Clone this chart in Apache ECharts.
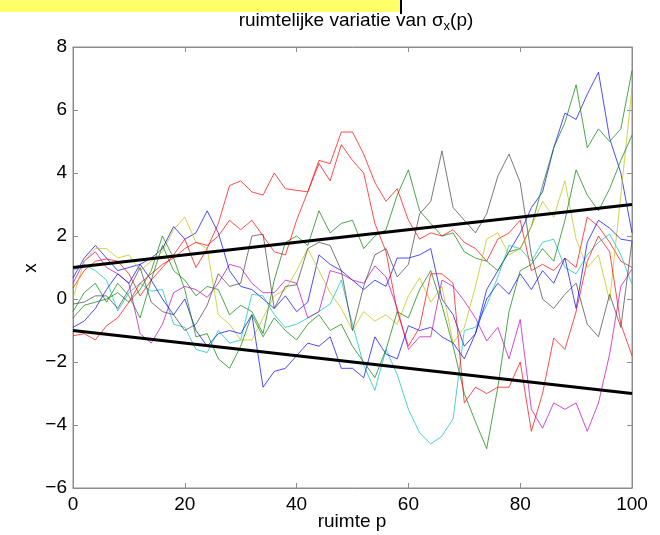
<!DOCTYPE html>
<html>
<head>
<meta charset="utf-8">
<script src="https://cdn.jsdelivr.net/npm/echarts@6/dist/echarts.min.js"></script>
<style>
  html, body { margin: 0; padding: 0; background: #ffffff; }
  #chart { width: 660px; height: 535px; }
</style>
</head>
<body>
<div id="chart"></div>
<script>
// Sample positions along the space axis p (every 2 units)
const positions = [];
for (let p = 0; p <= 100; p += 2) positions.push(p);

// Random-walk realisations x(p), one array per path
const blue1 = [0.67, 1.3, 1.7, 1.3, 0.9, 1.0, 1.1, 1.3, 1.6, 2.3, 1.9, 2.1, 2.8, 2.1, 0.9, 0.4, 0.3, 0.0, -0.3, 0.1, -0.4, -0.1, 1.4, 1.1, 0.9, 0.6, 0.3, 0.6, 0.4, 1.3, 1.3, 1.4, 1.6, 0.0, -0.5, -1.5, -1.1, 0.3, 0.9, 1.5, 2.1, 2.9, 3.4, 4.8, 5.9, 5.7, 6.5, 7.2, 5.1, 4.0, 2.1];
const green1 = [-0.4, 0.2, 0.5, -0.1, 0.5, 0.1, -0.6, 0.6, 1.7, 0.9, 0.6, 0.1, 0.4, 0.3, -0.5, -0.2, -0.4, -1.1, 0.6, 1.8, 2.0, 1.7, 2.8, 2.1, 2.4, 2.5, 1.6, 2.0, 2.2, 3.3, 4.1, 2.8, 2.4, 2.0, 2.1, 1.5, 1.3, 1.2, 0.9, 1.5, 1.6, 2.3, 3.6, 4.8, 5.6, 6.8, 4.8, 5.4, 5.0, 5.4, 7.25];
const red1 = [0.35, 0.9, 1.2, 1.27, 1.2, 0.8, 0.1, 0.6, 1.0, 1.4, 1.9, 1.0, 1.6, 2.4, 3.6, 3.75, 3.4, 3.3, 4.0, 3.5, 3.45, 3.4, 4.4, 4.3, 5.3, 5.3, 4.6, 3.7, 3.1, 3.5, 2.5, 1.9, 2.1, 2.0, 2.2, 1.8, 1.6, 1.2, 1.9, 2.1, 2.5, 0.9, 1.1, 0.9, 1.3, 1.0, 2.6, 2.3, 1.8, 1.2, 1.0];
const cyan = [0.9, 1.1, 0.9, 0.6, -0.38, 0.2, 0.5, 0.25, 0.3, -0.8, -0.9, -1.6, -1.7, -1.0, -1.4, -1.3, 0.15, 0.1, -0.5, -0.9, -0.8, -0.6, -0.4, -0.16, 0.6, -0.8, -2.1, -2.9, -1.6, -2.4, -3.5, -4.25, -4.6, -4.35, -3.8, -1.0, -0.9, -0.2, 0.7, 1.7, 1.6, 1.2, 1.8, 1.9, 1.0, 0.8, 1.4, 1.8, 2.06, 1.4, 0.47];
const magenta = [0.5, 1.2, 1.5, 1.0, 0.8, 0.5, -1.1, -1.4, -0.8, 0.2, 0.4, 0.3, 0.05, 0.5, 1.1, 1.0, 0.5, 0.2, 0.2, 0.6, 0.5, -0.6, -0.4, 0.9, 0.8, 0.6, 0.5, 1.05, 0.7, -0.3, -1.6, -1.2, -1.2, 0.6, 0.4, -0.06, -0.6, -1.33, -0.9, -1.9, -0.65, -3.5, -4.1, -3.3, -3.5, -3.3, -4.2, -3.3, -1.75, 0.4, 0.95];
const yellow = [0.03, 1.2, 1.6, 1.6, 1.3, 1.4, 0.9, 1.2, 1.5, 2.2, 2.6, 1.8, 1.6, -0.5, -0.8, -1.3, -1.3, -0.6, 0.1, 0.3, 0.9, 1.6, 0.9, 0.2, -0.3, -1.0, -0.4, -0.7, -0.5, -0.8, 0.1, 0.67, -0.1, 0.4, -1.4, -0.9, 0.4, 1.9, 2.1, 1.4, 1.6, 2.3, 3.1, 2.6, 3.75, 1.9, 1.0, 1.4, -0.06, 3.3, 6.7];
const black = [-0.16, -0.1, 0.1, 0.1, -0.3, 0.3, 1.0, -0.1, -0.4, -0.5, -1.0, -0.8, -0.2, 0.8, 0.4, 0.5, 2.0, 2.06, -0.3, 0.4, 0.45, 1.6, 1.8, 1.7, 0.9, -1.0, 0.4, 1.4, 1.6, 0.7, 1.1, 2.7, 3.1, 4.7, 2.9, 2.5, 2.1, 2.7, 3.9, 4.6, 3.7, 1.4, 0.0, -0.3, 0.15, 0.5, -0.8, -1.2, 0.15, -0.9, 1.84];
const blue2 = [-0.9, -0.7, -0.3, 0.3, 0.8, 0.5, 1.1, 0.6, 0.0, -0.5, 0.0, -1.0, -1.5, -1.1, -1.0, -1.1, -0.5, -2.8, -2.3, -2.2, -1.8, -1.4, -1.5, -1.2, -2.2, -2.2, -2.5, -1.2, -1.75, -1.9, -0.85, -1.0, -0.9, -1.2, -1.4, -1.9, -1.1, 0.0, 0.5, 0.15, 0.8, 0.3, 0.9, 0.5, 1.3, -0.3, 1.8, 2.5, 2.25, 1.9, 1.84];
const green2 = [-0.6, -0.2, -0.1, 0.0, 0.2, -0.1, 0.3, 0.9, 2.0, 1.3, 0.3, -1.2, -1.1, -1.9, -2.2, -1.5, -0.5, -1.2, -0.6, -1.0, -1.3, -0.8, -0.5, -1.0, -0.8, -1.5, -2.0, -2.5, -1.6, -0.4, -0.6, 0.3, 0.9, -0.2, -1.5, -3.0, -3.9, -4.75, -2.8, -0.4, 0.9, 1.1, 1.6, 1.2, 2.5, 4.1, 3.3, 2.8, 3.5, 4.4, 5.2];
const red2 = [-1.17, -1.1, -1.3, -0.85, -0.6, -0.1, 0.5, 0.8, 1.1, 1.3, 1.6, 1.8, 1.7, 2.0, 2.5, 2.2, 2.5, 2.0, 1.5, 1.4, 2.5, 3.4, 4.3, 3.75, 4.9, 4.4, 4.0, 2.4, 1.5, -0.4, -1.5, -0.9, 0.8, 0.8, 0.5, -3.3, -2.8, -3.0, -2.8, -2.8, -2.0, -4.2, -3.0, -1.24, -1.6, -0.4, 1.2, 2.0, 1.5, -0.8, -1.8];

// Envelope ±σx(p), drawn as straight lines between the ends of the range
const envelopeP = [0, 100];
const envelopeUpper = [1, 3];
const envelopeLower = [-1, -3];

const walks = [
  { data: blue1, color: '#0000ff' },
  { data: green1, color: '#008000' },
  { data: red1, color: '#ff0000' },
  { data: cyan, color: '#00bfbf' },
  { data: magenta, color: '#bf00bf' },
  { data: yellow, color: '#bfbf00' },
  { data: black, color: '#404040' },
  { data: blue2, color: '#0000ff' },
  { data: green2, color: '#008000' },
  { data: red2, color: '#ff0000' }
];

const pairs = (xs, ys) => xs.map((x, i) => [x, ys[i]]);

const series = walks.map(w => ({
  type: 'line',
  data: pairs(positions, w.data),
  showSymbol: false,
  silent: true,
  lineStyle: { color: w.color, width: 1, opacity: 0.7 },
  z: 2
}));

[envelopeUpper, envelopeLower].forEach(env => {
  series.push({
    type: 'line',
    data: pairs(envelopeP, env),
    showSymbol: false,
    silent: true,
    lineStyle: { color: '#000000', width: 3 },
    z: 5
  });
});

const font = 'Liberation Sans, Arial, Helvetica, sans-serif';
const frameColor = '#8c8c8c';
const frameAxis = {
  axisLine: { onZero: false, lineStyle: { color: frameColor } },
  axisTick: { inside: true, length: 5, lineStyle: { color: frameColor } },
  splitLine: { show: false }
};

const chart = echarts.init(document.getElementById('chart'), null, { renderer: 'canvas' });
chart.setOption({
  animation: false,
  backgroundColor: '#ffffff',
  title: {
    text: 'ruimtelijke variatie van σ{sub|x}(p)',
    left: 351,
    top: 4,
    textAlign: 'center',
    textStyle: {
      fontFamily: font,
      fontSize: 19,
      fontWeight: 'normal',
      color: '#000',
      rich: {
        sub: { fontFamily: font, fontSize: 13, color: '#000', padding: [11, 0, 0, 0] }
      }
    }
  },
  graphic: [
    { type: 'rect', left: 0, top: 0, shape: { width: 400, height: 12 }, style: { fill: '#ffff66' }, z: 10 },
    { type: 'rect', left: 400, top: 0, shape: { width: 2, height: 14 }, style: { fill: '#000' }, z: 10 },
    // axis titles
    { type: 'text', x: 352, y: 522, style: { text: 'ruimte p', font: '19px ' + font, fill: '#000', align: 'center', verticalAlign: 'middle' } },
    { type: 'text', x: 31, y: 268, rotation: Math.PI / 2, style: { text: 'x', font: '19px ' + font, fill: '#000', align: 'center', verticalAlign: 'middle' } }
  ],
  grid: {
    left: 73, right: 28, top: 47, bottom: 47,
    outerBoundsMode: 'none', containLabel: false,
    show: true, borderColor: frameColor, borderWidth: 1
  },
  xAxis: [
    Object.assign({
      type: 'value', min: 0, max: 100, interval: 20,
      axisLabel: { fontFamily: font, fontSize: 19, color: '#000', margin: 7 }
    }, frameAxis),
    Object.assign({
      type: 'value', min: 0, max: 100, interval: 20, position: 'top',
      axisLabel: { show: false }
    }, frameAxis)
  ],
  yAxis: [
    Object.assign({
      type: 'value', min: -6, max: 8, interval: 2,
      axisLabel: { fontFamily: font, fontSize: 19, color: '#000', margin: 6,
        formatter: v => (v < 0 ? '\u2212' + Math.abs(v) : String(v)) }
    }, frameAxis),
    Object.assign({
      type: 'value', min: -6, max: 8, interval: 2, position: 'right',
      axisLabel: { show: false }
    }, frameAxis)
  ],
  series: series
});
</script>
</body>
</html>
